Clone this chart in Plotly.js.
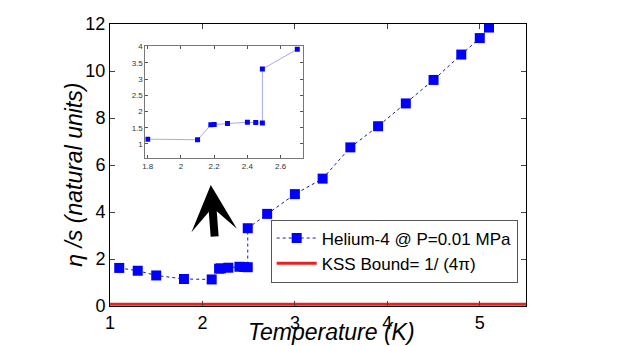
<!DOCTYPE html>
<html>
<head>
<meta charset="utf-8">
<script src="https://cdn.plot.ly/plotly-3.0.1.min.js"></script>
<style>
  html, body { margin: 0; padding: 0; background: #fff; }
  #chart { width: 617px; height: 346px; }
</style>
</head>
<body>
<div id="chart"></div>
<script>
// Helium-4 viscosity / entropy ratio
const temperature = [1.1, 1.3, 1.5, 1.8, 2.1, 2.18, 2.2, 2.28, 2.4, 2.45, 2.49, 2.49, 2.7,
  3.0, 3.3, 3.6, 3.9, 4.2, 4.5, 4.8, 5.0, 5.1];
const etaOverS = [1.62, 1.5, 1.3, 1.15, 1.13, 1.59, 1.6, 1.63, 1.67, 1.66, 1.65, 3.31, 3.92,
  4.76, 5.42, 6.75, 7.65, 8.62, 9.62, 10.7, 11.4, 11.85];

// KSS bound 1/(4 pi), drawn across the whole x range
const kssT = [1, 5.5];
const kssValue = [1 / (4 * Math.PI), 1 / (4 * Math.PI)];

const xTicks = [1, 2, 3, 4, 5];
const yTicks = [0, 2, 4, 6, 8, 10, 12];
const insetXTicks = [1.8, 2, 2.2, 2.4, 2.6];
const insetXLabels = ['1.8', '2', '2.2', '2.4', '2.6'];
const insetYTicks = [1, 1.5, 2, 2.5, 3, 3.5, 4];
const insetYLabels = ['1', '1.5', '2', '2.5', '3', '3.5', '4'];

// points shown in the inset (lambda transition region)
const insetIdx = temperature.map((t, i) => i).filter((i) => temperature[i] >= 1.75 && temperature[i] <= 2.75);
const insetT = insetIdx.map((i) => temperature[i]);
const insetEta = insetIdx.map((i) => etaOverS[i]);

const font = 'Liberation Sans, Arial, sans-serif';

const heliumTrace = {
  x: temperature,
  y: etaOverS,
  mode: 'lines+markers',
  name: 'Helium-4 @ P=0.01 MPa',
  line: { color: '#1a1a9a', width: 1, dash: 'dot' },
  marker: { symbol: 'square', size: 10, color: '#0000ff' },
};

const kssTrace = {
  x: kssT,
  y: kssValue,
  mode: 'lines',
  name: 'KSS Bound= 1/ (4π)',
  line: { color: '#e8211f', width: 3 },
};

const insetTrace = {
  x: insetT,
  y: insetEta,
  xaxis: 'x2',
  yaxis: 'y2',
  mode: 'lines+markers',
  showlegend: false,
  line: { color: '#a9a9ee', width: 1 },
  marker: { symbol: 'square', size: 5, color: '#0000ff' },
};

const layout = {
  width: 617,
  height: 346,
  margin: { l: 110, r: 91, t: 24, b: 40 },
  paper_bgcolor: '#fff',
  plot_bgcolor: '#fff',
  font: { family: font, color: '#000' },
  showlegend: true,
  legend: {
    x: 0.98, xanchor: 'right',
    y: 0.195, yanchor: 'middle',
    bgcolor: '#fff',
    bordercolor: '#555',
    borderwidth: 1,
    itemwidth: 40,
    font: { size: 17, family: font },
    tracegroupgap: 0,
  },
  xaxis: {
    range: [1, 5.5],
    tickvals: xTicks,
    ticks: 'inside',
    ticklen: 5,
    showline: true,
    linecolor: '#000',
    mirror: 'ticks',
    showgrid: false,
    zeroline: false,
    tickfont: { size: 18 },
  },
  yaxis: {
    range: [0, 12],
    tickvals: yTicks,
    ticks: 'inside',
    ticklen: 5,
    showline: true,
    linecolor: '#000',
    mirror: 'ticks',
    showgrid: false,
    zeroline: false,
    tickfont: { size: 18 },
  },
  xaxis2: {
    domain: [0.085, 0.465],
    anchor: 'y2',
    range: [1.786, 2.737],
    tickvals: insetXTicks,
    ticktext: insetXLabels,
    ticks: 'inside',
    ticklen: 3,
    tickcolor: '#555',
    showline: true,
    linecolor: '#777',
    mirror: 'ticks',
    showgrid: false,
    zeroline: false,
    tickfont: { size: 8, color: '#333' },
  },
  yaxis2: {
    domain: [0.525, 0.922],
    anchor: 'x2',
    range: [0.57, 4.02],
    tickvals: insetYTicks,
    ticktext: insetYLabels,
    ticks: 'inside',
    ticklen: 3,
    tickcolor: '#555',
    showline: true,
    linecolor: '#777',
    mirror: 'ticks',
    showgrid: false,
    zeroline: false,
    tickfont: { size: 8, color: '#333' },
  },
  annotations: [
    {
      // x axis title, sits right on the tick labels like the original
      text: '<i>Temperature (K)</i>',
      xref: 'paper', yref: 'paper',
      x: 0.532, y: -0.04,
      xanchor: 'center', yanchor: 'top',
      showarrow: false,
      font: { size: 23, family: font },
    },
    {
      text: '<i>η /s (natural units)</i>',
      xref: 'paper', yref: 'paper',
      x: -0.087, y: 0.465,
      xanchor: 'center', yanchor: 'middle',
      textangle: -90,
      showarrow: false,
      font: { size: 23, family: font },
    },
    {
      // big arrow pointing at the inset
      x: 2.09, y: 5.15,
      xref: 'x', yref: 'y',
      ax: 4, ay: 53,
      text: '',
      showarrow: true,
      arrowhead: 3,
      arrowwidth: 8,
      arrowsize: 0.95,
      arrowcolor: '#000',
    },
  ],
};

Plotly.newPlot('chart', [heliumTrace, kssTrace, insetTrace], layout, { displayModeBar: false });
</script>
</body>
</html>
